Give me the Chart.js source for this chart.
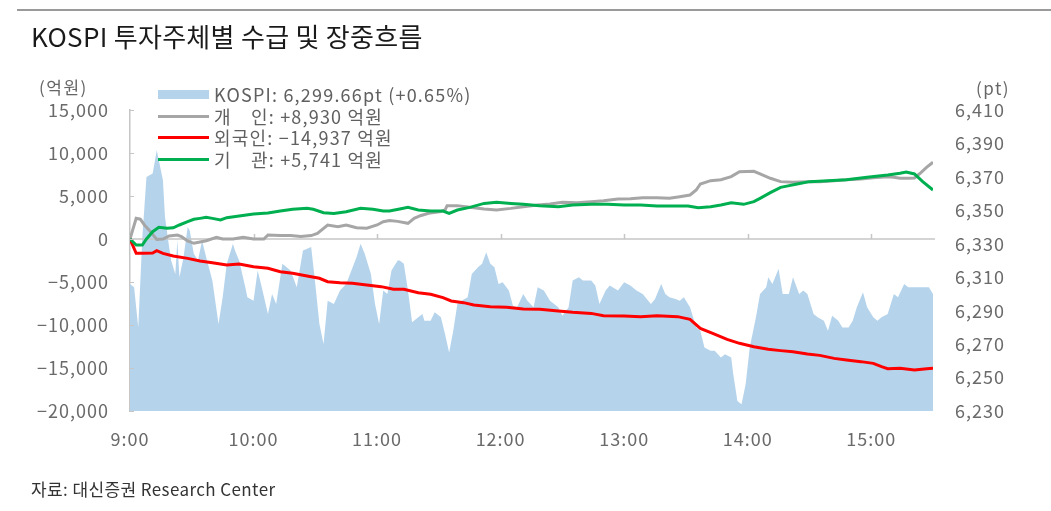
<!DOCTYPE html>
<html>
<head>
<meta charset="utf-8">
<script src="https://cdn.jsdelivr.net/npm/chart.js@4/dist/chart.umd.min.js"></script>
<style>
  html, body { margin:0; padding:0; background:#fff; }
  body { width:1051px; height:511px; position:relative; overflow:hidden;
         font-family:"Noto Sans CJK KR","Noto Sans",sans-serif; }
  #wrap { position:absolute; left:0; top:0; width:1051px; height:511px; }
  .topline { position:absolute; left:17px; top:9px; width:1034px; height:2px; background:#9a9a9a; }
  .title { position:absolute; left:31px; top:18px; font-size:26px; letter-spacing:0.3px; line-height:36px; color:#1a1a1a; white-space:nowrap; }
  .unit { position:absolute; font-size:17px; letter-spacing:1.5px; line-height:20px; color:#666; white-space:nowrap; }
  .lg { position:absolute; left:158px; height:20px; font-size:18px; letter-spacing:1.2px; line-height:20px; color:#606060; white-space:nowrap; }
  .lg .sw { position:absolute; left:0; width:51px; }
  .lg .tx { position:absolute; left:56px; top:0; }
  .src { position:absolute; left:31px; top:478px; font-size:17px; letter-spacing:0.4px; line-height:22px; color:#333; white-space:nowrap; }
</style>
</head>
<body>
<div id="wrap"><canvas id="c" width="1051" height="511"></canvas></div>
<div class="topline"></div>
<div class="title">KOSPI 투자주체별 수급 및 장중흐름</div>
<div class="unit" style="left:39px;top:77px;">(억원)</div>
<div class="unit" style="left:976px;top:78px;">(pt)</div>
<div class="lg" style="top:84px;"><span class="sw" style="top:6px;height:9px;background:#b5d4ec;"></span><span class="tx">KOSPI: 6,299.66pt (+0.65%)</span></div>
<div class="lg" style="top:106px;"><span class="sw" style="top:9px;height:3px;background:#a6a6a6;"></span><span class="tx">개　인: +8,930 억원</span></div>
<div class="lg" style="top:127px;"><span class="sw" style="top:9px;height:3px;background:#ff0000;"></span><span class="tx">외국인: −14,937 억원</span></div>
<div class="lg" style="top:149px;"><span class="sw" style="top:9px;height:3px;background:#00b050;"></span><span class="tx">기　관: +5,741 억원</span></div>
<div class="src">자료: 대신증권 Research Center</div>
<script>
// ---- tick labels ----
const hourTicks = [0, 60, 120, 180, 240, 300, 360];        // minutes after 9:00
const flowTicks = [-20000, -15000, -10000, -5000, 0, 5000, 10000, 15000];
const kospiTicks = [6230, 6250, 6270, 6290, 6310, 6330, 6350, 6370, 6390, 6410];

// ---- KOSPI index (pt), right axis ----
const kospiTime = [
  0,2,4,6,8,11,13,16,17,19,
  20,22,23,24,26,28,29,31,33,35,
  37,40,43,45,47,50,51,53,56,57,
  60,62,64,67,69,71,74,78,81,84,
  88,90,92,94,96,99,102,105,110,112,
  114,117,119,121,123,125,127,130,131,133,
  135,137,140,142,143,146,148,151,153,155,
  157,159,161,164,166,169,171,173,175,177,
  179,181,184,186,188,191,193,196,198,201,
  204,208,210,213,215,218,220,224,226,228,
  231,233,237,240,243,246,249,253,255,258,
  260,262,265,267,269,272,275,277,279,282,
  284,287,289,292,293,295,297,299,301,304,
  306,309,310,312,315,317,320,322,325,327,
  329,332,334,337,339,341,344,346,349,351,
  353,356,358,361,363,365,368,371,373,376,
  378,381,385,388,390
];
const kospiValue = [
  6306,6304,6280,6334,6370,6372,6386,6368,6346,6328,
  6320,6312,6332,6310,6322,6340,6338,6324,6320,6332,
  6322,6308,6282,6298,6318,6330,6326,6320,6304,6298,
  6296,6314,6304,6288,6300,6294,6318,6314,6304,6326,
  6328,6306,6282,6270,6296,6294,6302,6306,6322,6330,
  6324,6312,6294,6282,6302,6300,6314,6320,6320,6318,
  6302,6283,6286,6288,6284,6284,6289,6286,6276,6265,
  6278,6294,6296,6298,6312,6316,6318,6325,6318,6316,
  6306,6307,6302,6293,6292,6300,6296,6292,6304,6302,
  6296,6292,6287,6292,6308,6310,6308,6308,6305,6294,
  6302,6305,6302,6307,6305,6302,6300,6294,6297,6306,
  6300,6298,6297,6296,6298,6292,6280,6278,6268,6266,
  6266,6262,6264,6262,6252,6236,6234,6246,6268,6286,
  6300,6304,6310,6306,6315,6300,6300,6310,6300,6302,
  6300,6288,6286,6284,6278,6287,6284,6280,6280,6284,
  6292,6301,6292,6286,6284,6286,6288,6300,6298,6306,
  6304,6304,6304,6304,6300
];

// ---- 개인 (individuals), 억원 ----
const indivTime = [
  0,3,5,7,10,13,16,19,23,25,
  28,31,34,37,42,45,50,55,60,65,
  67,73,78,83,88,91,96,101,105,110,
  115,120,123,126,130,135,138,141,145,151,
  153,154,159,165,172,178,185,191,198,204,
  210,217,224,230,237,243,249,256,262,267,
  272,275,277,282,287,292,296,303,306,311,
  316,322,329,335,342,348,355,361,368,371,
  374,378,381,384,387,390
];
const indivValue = [
  0,2400,2300,1630,850,-40,0,350,450,270,
  -230,-500,-350,-200,200,0,0,200,0,0,
  470,400,400,300,400,660,1630,1440,1630,1320,
  1250,1630,2010,2150,2050,1820,2400,2710,2990,3180,
  3370,3880,3880,3680,3490,3370,3560,3760,3950,4070,
  4260,4220,4340,4460,4650,4690,4800,4800,4730,4920,
  5120,5700,6400,6780,6900,7250,7830,7870,7560,7060,
  6670,6590,6670,6670,6780,6900,6980,7130,7250,7170,
  7060,7060,7100,7700,8350,8930
];

// ---- 외국인 (foreigners), 억원 ----
const foreignTime = [
  0,3,6,11,13,16,21,28,34,40,
  47,53,60,67,73,79,86,92,96,102,
  108,115,122,128,133,140,146,152,156,162,
  167,175,183,191,199,208,215,224,230,240,
  248,256,266,272,277,283,290,296,303,310,
  316,322,329,335,342,348,355,361,365,368,
  374,381,387,390
];
const foreignValue = [
  0,-1670,-1670,-1630,-1360,-1670,-1980,-2250,-2560,-2750,
  -3020,-2900,-3220,-3410,-3800,-3990,-4300,-4570,-4960,-5080,
  -5150,-5350,-5540,-5850,-5850,-6240,-6430,-6820,-7210,-7400,
  -7680,-7870,-7950,-8140,-8180,-8370,-8530,-8650,-8920,-8960,
  -9030,-8920,-9030,-9340,-10390,-10970,-11670,-12130,-12520,-12830,
  -12980,-13100,-13370,-13530,-13880,-14070,-14260,-14460,-14850,-15080,
  -15040,-15230,-15080,-15040
];

// ---- 기관 (institutions), 억원 ----
const instTime = [
  0,3,6,8,11,14,18,21,24,28,
  31,34,37,40,44,47,53,60,67,73,
  79,86,89,94,99,105,112,118,123,126,
  131,135,140,146,152,155,159,165,172,178,
  185,191,199,208,215,224,232,240,248,256,
  264,271,276,282,287,292,298,303,306,311,
  316,319,324,330,339,348,358,368,374,377,
  381,385,390
];
const instValue = [
  0,-700,-700,0,850,1360,1240,1300,1630,2010,
  2290,2400,2520,2400,2210,2480,2670,2900,3020,3250,
  3450,3570,3450,3060,2980,3180,3570,3450,3250,3250,
  3490,3680,3370,3250,3250,2980,3370,3680,4140,4260,
  4140,4030,3880,3760,3950,4030,4030,3950,3950,3840,
  3840,3840,3640,3760,3950,4200,4030,4340,4730,5390,
  6010,6150,6400,6670,6780,6900,7170,7440,7640,7790,
  7560,6670,5700
];

const pts = (t, v) => t.map((x, i) => ({ x: x, y: v[i] }));
const fmt = v => (v < 0 ? '−' : '') + Math.abs(v).toLocaleString('en-US');

Chart.defaults.font.family = '"Noto Sans CJK KR","Noto Sans",sans-serif';

const spacing = {
  id: 'spacing',
  beforeLayout(chart) { chart.ctx.letterSpacing = '1px'; },
  beforeDraw(chart) { chart.ctx.letterSpacing = '1px'; }
};

const refLines = {
  id: 'refLines',
  afterDatasetDraw(chart, args) {
    if (args.index !== 0) return;
    const { ctx, chartArea, scales } = chart;
    const y0 = scales.y.getPixelForValue(0);
    ctx.save();
    ctx.strokeStyle = '#c6c6c6';
    ctx.lineWidth = 1.5;
    ctx.beginPath();
    ctx.moveTo(chartArea.left, y0);
    ctx.lineTo(chartArea.right + 2, y0);
    hourTicks.forEach(v => {
      if (v === 0) return;
      const px = Math.round(scales.x.getPixelForValue(v)) + 0.5;
      ctx.moveTo(px, y0);
      ctx.lineTo(px, y0 - 5);
    });
    ctx.stroke();
    ctx.restore();
  },
  afterDraw(chart) {
    const { ctx, chartArea, scales } = chart;
    ctx.save();
    ctx.strokeStyle = '#c6c6c6';
    ctx.lineWidth = 1;
    ctx.beginPath();
    flowTicks.forEach(v => {
      const py = Math.round(scales.y.getPixelForValue(v)) + 0.5;
      ctx.moveTo(chartArea.left - 1, py);
      ctx.lineTo(chartArea.left + 4, py);
    });
    ctx.stroke();
    ctx.restore();
  }
};

new Chart(document.getElementById('c'), {
  type: 'line',
  data: {
    datasets: [
      { label: 'KOSPI', data: pts(kospiTime, kospiValue), yAxisID: 'y2',
        fill: 'start', backgroundColor: '#b5d4ec', borderWidth: 0, pointRadius: 0, order: 10, tension: 0 },
      { label: '개인', data: pts(indivTime, indivValue), yAxisID: 'y',
        borderColor: '#a6a6a6', borderWidth: 3, pointRadius: 0, fill: false, order: 3, tension: 0 },
      { label: '외국인', data: pts(foreignTime, foreignValue), yAxisID: 'y',
        borderColor: '#ff0000', borderWidth: 3, pointRadius: 0, fill: false, order: 2, tension: 0 },
      { label: '기관', data: pts(instTime, instValue), yAxisID: 'y',
        borderColor: '#00b050', borderWidth: 3, pointRadius: 0, fill: false, order: 1, tension: 0 }
    ]
  },
  options: {
    responsive: false,
    animation: false,
    events: [],
    layout: { padding: { top: 110, left: 0, right: 0, bottom: 0 } },
    plugins: { legend: { display: false }, tooltip: { enabled: false } },
    scales: {
      x: {
        type: 'linear', min: 0, max: 390,
        afterBuildTicks: s => { s.ticks = hourTicks.map(v => ({ value: v })); },
        afterFit: s => { s.height = 100; },
        grid: { display: false, drawTicks: false },
        border: { display: false },
        ticks: { padding: 17, color: '#6a6a6a', font: { size: 18 }, maxRotation: 0,
                 callback: v => (9 + Math.floor(v / 60)) + ':00' }
      },
      y: {
        position: 'left', min: -20000, max: 15000,
        afterBuildTicks: s => { s.ticks = flowTicks.map(v => ({ value: v })); },
        afterFit: s => { s.width = 130; },
        grid: { display: false, drawTicks: false },
        border: { display: true, color: '#c6c6c6', width: 1.5 },
        ticks: { padding: 21, color: '#6a6a6a', font: { size: 18 }, callback: v => fmt(v) }
      },
      y2: {
        position: 'right', min: 6230, max: 6410,
        afterBuildTicks: s => { s.ticks = kospiTicks.map(v => ({ value: v })); },
        afterFit: s => { s.width = 118; },
        grid: { display: false, drawTicks: false },
        border: { display: false },
        ticks: { padding: 22, color: '#6a6a6a', font: { size: 18 }, callback: v => fmt(v) }
      }
    }
  },
  plugins: [spacing, refLines]
});
</script>
</body>
</html>
